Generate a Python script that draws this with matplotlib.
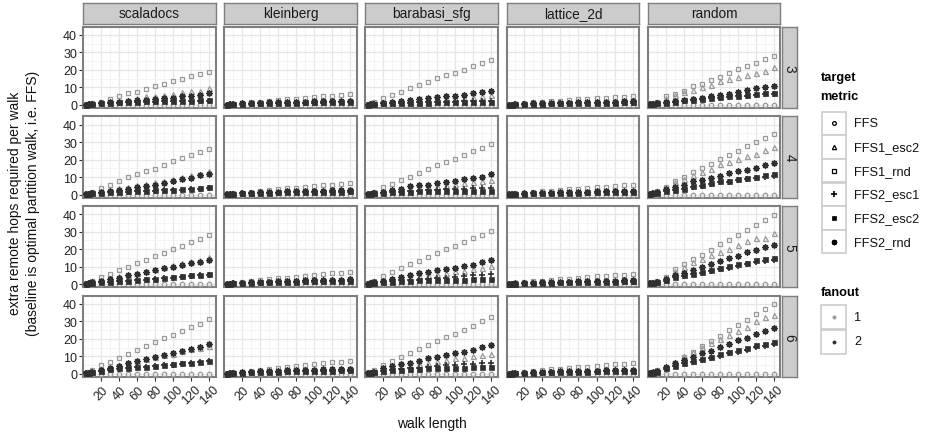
import matplotlib
matplotlib.use('Agg')
import matplotlib.pyplot as plt
from matplotlib.patches import Rectangle
from matplotlib.ticker import FixedLocator

plt.rcParams['font.family'] = ['Liberation Sans', 'DejaVu Sans']

# ---------------- data ----------------
walk_length = [3, 6, 10, 20, 30, 40, 50, 60, 70, 80, 90, 100, 110, 120, 130, 140]
graphs = ['scaladocs', 'kleinberg', 'barabasi_sfg', 'lattice_2d', 'random']
row_labels = ['3', '4', '5', '6']
metrics = ['FFS', 'FFS1_esc2', 'FFS1_rnd', 'FFS2_esc1', 'FFS2_esc2', 'FFS2_rnd']
fanout_labels = ['1', '2']
x_ticks = [20, 40, 60, 80, 100, 120, 140]
y_ticks = [0, 10, 20, 30, 40]

FFS_baseline = [0, 0, 0, 0, 0, 0, 0, 0, 0, 0, 0, 0, 0, 0, 0, 0]

scaladocs_FFS1_rnd = [
    [0.3, 0.6, 1.0, 1.8, 3.4, 4.8, 6.5, 7.6, 9.1, 10.5, 11.8, 13.6, 14.8, 16.3, 17.5, 19.0],
    [0.4, 0.8, 1.5, 4.0, 5.7, 7.5, 9.8, 11.5, 13.2, 14.8, 17.0, 19.0, 20.9, 22.8, 24.3, 26.2],
    [0.4, 0.9, 1.8, 3.9, 5.8, 7.9, 10.1, 12.4, 13.9, 16.3, 18.0, 20.0, 21.9, 24.2, 25.7, 28.0],
    [0.5, 1.0, 2.0, 5.0, 6.9, 9.2, 11.6, 13.8, 15.7, 18.1, 20.4, 22.2, 24.7, 26.9, 28.8, 31.4]]
scaladocs_FFS1_esc2 = [
    [0.2, 0.4, 0.7, 1.2, 1.8, 2.4, 3.0, 3.8, 4.8, 5.3, 5.7, 6.3, 7.2, 8.0, 8.2, 9.5],
    [0.3, 0.6, 1.0, 2.0, 2.8, 3.6, 4.5, 5.5, 6.2, 7.2, 8.0, 8.8, 10.0, 11.0, 11.8, 13.4],
    [0.3, 0.7, 1.2, 2.2, 3.2, 4.4, 5.5, 6.6, 7.6, 8.7, 9.8, 10.8, 11.9, 13.0, 14.0, 15.4],
    [0.3, 0.7, 1.2, 2.4, 3.6, 4.8, 6.2, 7.2, 8.3, 9.5, 10.6, 11.6, 13.0, 14.0, 15.0, 16.2]]
scaladocs_FFS2_rnd = [
    [0.2, 0.4, 0.7, 1.0, 1.4, 1.8, 2.1, 2.5, 3.0, 3.4, 3.8, 4.2, 5.0, 5.3, 5.5, 6.7],
    [0.3, 0.5, 0.9, 1.6, 2.2, 2.7, 3.3, 4.2, 5.0, 5.6, 6.5, 7.7, 9.0, 9.4, 10.9, 11.9],
    [0.3, 0.6, 1.0, 1.9, 2.8, 3.8, 5.1, 6.0, 6.9, 7.9, 9.2, 9.8, 11.1, 12.0, 12.9, 14.1],
    [0.3, 0.7, 1.1, 2.2, 3.6, 4.7, 6.2, 7.3, 8.4, 9.7, 10.8, 11.8, 13.3, 14.2, 15.3, 16.8]]
scaladocs_FFS2_esc2 = [
    [0.2, 0.4, 0.6, 1.0, 1.2, 1.4, 1.6, 1.8, 2.0, 2.1, 2.2, 2.3, 2.4, 2.4, 2.5, 2.5],
    [0.2, 0.4, 0.7, 1.1, 1.4, 1.6, 1.9, 2.1, 2.3, 2.5, 2.7, 2.7, 2.9, 3.3, 3.6, 4.2],
    [0.3, 0.5, 0.8, 1.2, 1.5, 1.8, 2.1, 2.3, 2.8, 3.2, 3.6, 3.9, 4.5, 5.1, 5.4, 5.6],
    [0.3, 0.6, 0.9, 1.8, 2.5, 3.2, 3.5, 4.1, 4.1, 4.5, 5.0, 5.4, 6.0, 6.4, 6.9, 7.5]]
scaladocs_FFS2_esc1 = [
    [0.2, 0.4, 0.6, 0.9, 1.1, 1.3, 1.5, 1.6, 1.8, 1.9, 2.0, 2.1, 2.2, 2.2, 2.3, 2.4],
    [0.2, 0.4, 0.6, 1.0, 1.3, 1.5, 1.7, 1.9, 2.1, 2.3, 2.5, 2.6, 2.8, 3.0, 3.3, 3.8],
    [0.3, 0.5, 0.8, 1.2, 1.5, 1.8, 2.0, 2.3, 2.6, 3.0, 3.4, 3.7, 4.2, 4.7, 5.0, 5.4],
    [0.3, 0.6, 0.9, 1.7, 2.4, 3.0, 3.4, 3.9, 4.0, 4.4, 4.8, 5.2, 5.8, 6.2, 6.6, 7.2]]

kleinberg_FFS1_rnd = [
    [0.2, 0.4, 0.6, 1.0, 1.5, 1.9, 2.4, 2.9, 3.3, 3.6, 4.0, 4.4, 5.0, 5.3, 5.6, 6.3],
    [0.2, 0.4, 0.7, 1.1, 1.6, 2.1, 2.6, 3.1, 3.5, 4.0, 4.4, 4.9, 5.3, 5.7, 6.1, 6.7],
    [0.2, 0.5, 0.7, 1.2, 1.8, 2.3, 2.8, 3.3, 3.8, 4.3, 4.8, 5.3, 5.7, 6.2, 6.6, 7.1],
    [0.3, 0.5, 0.8, 1.3, 1.9, 2.4, 3.0, 3.5, 4.1, 4.6, 5.1, 5.6, 6.1, 6.6, 7.0, 7.5]]
kleinberg_FFS1_esc2 = [
    [0.2, 0.3, 0.5, 0.8, 1.0, 1.2, 1.4, 1.6, 1.7, 1.9, 2.0, 2.1, 2.2, 2.3, 2.4, 2.5],
    [0.2, 0.3, 0.5, 0.8, 1.1, 1.3, 1.5, 1.7, 1.9, 2.0, 2.2, 2.3, 2.4, 2.5, 2.6, 2.7],
    [0.2, 0.3, 0.5, 0.9, 1.2, 1.4, 1.6, 1.8, 2.0, 2.2, 2.3, 2.5, 2.6, 2.7, 2.8, 2.9],
    [0.2, 0.4, 0.6, 0.9, 1.2, 1.5, 1.7, 1.9, 2.1, 2.3, 2.5, 2.6, 2.8, 2.9, 3.0, 3.1]]
kleinberg_FFS2_rnd = [
    [0.2, 0.3, 0.5, 0.8, 1.0, 1.2, 1.4, 1.5, 1.7, 1.8, 1.9, 2.0, 2.1, 2.2, 2.3, 2.4],
    [0.2, 0.3, 0.5, 0.8, 1.0, 1.2, 1.4, 1.6, 1.8, 1.9, 2.0, 2.2, 2.3, 2.4, 2.5, 2.6],
    [0.2, 0.3, 0.5, 0.8, 1.1, 1.3, 1.5, 1.7, 1.9, 2.0, 2.2, 2.3, 2.4, 2.5, 2.6, 2.8],
    [0.2, 0.4, 0.6, 0.9, 1.1, 1.4, 1.6, 1.8, 2.0, 2.1, 2.3, 2.4, 2.6, 2.7, 2.8, 3.0]]
kleinberg_FFS2_esc2 = [
    [0.2, 0.3, 0.4, 0.6, 0.8, 0.9, 1.0, 1.1, 1.2, 1.3, 1.4, 1.4, 1.5, 1.6, 1.6, 1.7],
    [0.2, 0.3, 0.4, 0.7, 0.8, 1.0, 1.1, 1.2, 1.3, 1.4, 1.5, 1.5, 1.6, 1.7, 1.7, 1.8],
    [0.2, 0.3, 0.5, 0.7, 0.9, 1.0, 1.1, 1.3, 1.4, 1.5, 1.6, 1.6, 1.7, 1.8, 1.9, 1.9],
    [0.2, 0.3, 0.5, 0.7, 0.9, 1.1, 1.2, 1.3, 1.5, 1.6, 1.7, 1.8, 1.9, 1.9, 2.0, 2.1]]
kleinberg_FFS2_esc1 = [
    [0.2, 0.3, 0.4, 0.5, 0.7, 0.8, 0.9, 1.0, 1.1, 1.2, 1.2, 1.3, 1.3, 1.4, 1.4, 1.5],
    [0.2, 0.3, 0.4, 0.6, 0.7, 0.9, 1.0, 1.1, 1.2, 1.2, 1.3, 1.4, 1.4, 1.5, 1.6, 1.6],
    [0.2, 0.3, 0.4, 0.6, 0.8, 0.9, 1.0, 1.1, 1.2, 1.3, 1.4, 1.5, 1.5, 1.6, 1.7, 1.7],
    [0.2, 0.3, 0.4, 0.6, 0.8, 1.0, 1.1, 1.2, 1.3, 1.4, 1.5, 1.6, 1.7, 1.7, 1.8, 1.9]]

barabasi_sfg_FFS1_rnd = [
    [0.4, 0.8, 1.5, 4.0, 5.9, 7.6, 9.5, 11.4, 13.1, 15.2, 16.8, 18.5, 20.2, 22.1, 23.8, 25.7],
    [0.4, 0.9, 1.6, 4.2, 6.1, 8.4, 10.3, 12.3, 14.6, 16.7, 18.6, 20.5, 22.8, 24.7, 26.8, 28.7],
    [0.5, 1.0, 1.8, 4.7, 7.0, 9.2, 11.3, 13.4, 15.5, 17.9, 20.0, 22.1, 24.3, 26.2, 28.3, 30.2],
    [0.5, 1.1, 2.0, 5.1, 7.5, 9.8, 11.7, 14.2, 16.4, 18.7, 20.9, 23.0, 25.3, 27.4, 30.0, 32.5]]
barabasi_sfg_FFS1_esc2 = [
    [0.2, 0.3, 0.5, 0.8, 1.2, 1.6, 2.1, 2.5, 2.9, 3.2, 3.5, 3.8, 4.1, 4.6, 5.1, 5.5],
    [0.2, 0.4, 0.6, 1.2, 1.8, 2.4, 3.0, 3.6, 4.1, 4.7, 5.3, 5.9, 6.5, 7.2, 8.0, 8.4],
    [0.3, 0.5, 0.8, 1.5, 2.3, 3.0, 3.7, 4.4, 5.1, 5.8, 6.6, 7.4, 7.7, 8.5, 9.2, 10.2],
    [0.3, 0.6, 0.9, 1.8, 2.7, 3.6, 4.5, 5.4, 6.3, 7.2, 8.0, 8.9, 9.2, 10.4, 10.8, 11.3]]
barabasi_sfg_FFS2_rnd = [
    [0.2, 0.4, 0.6, 1.0, 1.5, 2.1, 2.9, 3.4, 4.0, 4.4, 4.8, 5.3, 5.7, 6.5, 7.2, 7.8],
    [0.2, 0.5, 0.8, 1.7, 2.7, 3.3, 4.6, 5.2, 5.7, 6.5, 7.1, 7.7, 8.6, 9.6, 10.3, 11.5],
    [0.3, 0.6, 1.0, 1.9, 3.2, 4.0, 5.1, 6.2, 7.2, 8.1, 8.9, 9.4, 10.2, 11.1, 12.6, 13.6],
    [0.3, 0.7, 1.2, 3.2, 4.5, 5.8, 6.4, 7.5, 8.9, 9.8, 10.8, 11.7, 12.3, 13.6, 15.1, 16.4]]
barabasi_sfg_FFS2_esc2 = [
    [0.2, 0.3, 0.5, 0.8, 1.0, 1.1, 1.2, 1.3, 1.3, 1.4, 1.4, 1.4, 1.5, 1.5, 1.5, 1.5],
    [0.2, 0.4, 0.6, 1.0, 1.3, 1.5, 1.7, 1.8, 1.9, 2.0, 2.0, 2.1, 2.1, 2.2, 2.2, 2.2],
    [0.2, 0.4, 0.6, 1.1, 1.5, 1.8, 2.0, 2.2, 2.3, 2.4, 2.5, 2.5, 2.6, 2.7, 2.7, 2.8],
    [0.3, 0.5, 0.8, 1.4, 2.0, 2.4, 2.7, 2.9, 3.1, 3.3, 3.4, 3.5, 3.6, 3.7, 3.7, 3.8]]
barabasi_sfg_FFS2_esc1 = [
    [0.2, 0.3, 0.5, 0.8, 1.0, 1.2, 1.3, 1.5, 1.6, 1.7, 1.8, 1.9, 2.0, 2.1, 2.2, 2.3],
    [0.2, 0.4, 0.6, 1.0, 1.4, 1.7, 2.0, 2.3, 2.5, 2.7, 2.9, 3.1, 3.3, 3.5, 3.6, 3.8],
    [0.3, 0.5, 0.8, 1.4, 2.0, 2.4, 2.3, 2.6, 3.2, 3.6, 3.8, 4.2, 4.7, 5.1, 5.3, 5.8],
    [0.3, 0.6, 0.9, 1.6, 2.2, 2.8, 3.2, 3.6, 4.0, 4.4, 4.8, 5.1, 5.4, 5.7, 6.0, 6.4]]

lattice_2d_FFS1_rnd = [
    [0.2, 0.4, 0.6, 1.0, 1.4, 1.7, 2.1, 2.4, 2.8, 3.1, 3.4, 3.8, 4.1, 4.4, 4.7, 5.0],
    [0.2, 0.4, 0.6, 1.1, 1.5, 1.9, 2.3, 2.7, 3.0, 3.4, 3.8, 4.1, 4.5, 4.9, 5.2, 5.5],
    [0.2, 0.4, 0.7, 1.1, 1.6, 2.0, 2.4, 2.8, 3.2, 3.6, 4.0, 4.4, 4.8, 5.1, 5.5, 5.8],
    [0.2, 0.4, 0.7, 1.2, 1.6, 2.1, 2.5, 2.9, 3.4, 3.8, 4.2, 4.6, 5.0, 5.4, 5.7, 6.1]]
lattice_2d_FFS1_esc2 = [
    [0.1, 0.2, 0.4, 0.6, 0.8, 1.0, 1.1, 1.3, 1.4, 1.5, 1.6, 1.7, 1.8, 1.9, 2.0, 2.1],
    [0.1, 0.2, 0.4, 0.6, 0.8, 1.0, 1.2, 1.3, 1.5, 1.6, 1.7, 1.8, 1.9, 2.0, 2.1, 2.2],
    [0.2, 0.3, 0.4, 0.7, 0.9, 1.1, 1.2, 1.4, 1.5, 1.7, 1.8, 1.9, 2.0, 2.1, 2.2, 2.3],
    [0.2, 0.3, 0.4, 0.7, 0.9, 1.1, 1.3, 1.4, 1.6, 1.7, 1.9, 2.0, 2.1, 2.2, 2.3, 2.4]]
lattice_2d_FFS2_rnd = [
    [0.1, 0.2, 0.4, 0.6, 0.8, 0.9, 1.1, 1.2, 1.3, 1.5, 1.6, 1.7, 1.8, 1.9, 2.0, 2.1],
    [0.1, 0.2, 0.4, 0.6, 0.8, 1.0, 1.1, 1.3, 1.4, 1.5, 1.7, 1.8, 1.9, 2.0, 2.1, 2.2],
    [0.2, 0.3, 0.4, 0.7, 0.9, 1.0, 1.2, 1.3, 1.5, 1.6, 1.7, 1.9, 2.0, 2.1, 2.2, 2.3],
    [0.2, 0.3, 0.4, 0.7, 0.9, 1.1, 1.2, 1.4, 1.5, 1.7, 1.8, 1.9, 2.1, 2.2, 2.3, 2.4]]
lattice_2d_FFS2_esc2 = [
    [0.1, 0.2, 0.3, 0.5, 0.6, 0.7, 0.8, 0.9, 1.0, 1.1, 1.1, 1.2, 1.3, 1.3, 1.4, 1.4],
    [0.1, 0.2, 0.3, 0.5, 0.6, 0.8, 0.9, 1.0, 1.0, 1.1, 1.2, 1.3, 1.3, 1.4, 1.5, 1.5],
    [0.1, 0.2, 0.3, 0.5, 0.7, 0.8, 0.9, 1.0, 1.1, 1.2, 1.3, 1.4, 1.4, 1.5, 1.6, 1.6],
    [0.1, 0.2, 0.3, 0.5, 0.7, 0.8, 0.9, 1.0, 1.1, 1.2, 1.3, 1.4, 1.5, 1.6, 1.6, 1.7]]
lattice_2d_FFS2_esc1 = [
    [0.1, 0.2, 0.3, 0.4, 0.5, 0.6, 0.7, 0.8, 0.9, 0.9, 1.0, 1.1, 1.1, 1.2, 1.2, 1.3],
    [0.1, 0.2, 0.3, 0.4, 0.6, 0.7, 0.8, 0.9, 0.9, 1.0, 1.1, 1.1, 1.2, 1.3, 1.3, 1.4],
    [0.1, 0.2, 0.3, 0.5, 0.6, 0.7, 0.8, 0.9, 1.0, 1.1, 1.1, 1.2, 1.3, 1.4, 1.4, 1.5],
    [0.1, 0.2, 0.3, 0.5, 0.6, 0.7, 0.8, 0.9, 1.0, 1.1, 1.2, 1.3, 1.4, 1.4, 1.5, 1.6]]

random_FFS1_rnd = [
    [0.4, 0.9, 1.8, 4.8, 6.3, 8.2, 10.5, 12.0, 14.3, 16.2, 18.3, 20.4, 22.1, 23.8, 26.1, 27.8],
    [0.5, 1.0, 2.0, 4.2, 8.0, 10.0, 12.8, 15.3, 17.6, 20.5, 22.4, 24.9, 27.8, 29.9, 32.4, 34.9],
    [0.5, 1.0, 2.0, 4.2, 8.5, 11.5, 14.2, 16.8, 19.6, 22.8, 25.5, 28.1, 30.9, 34.0, 36.6, 39.4],
    [0.5, 1.0, 2.0, 3.2, 6.0, 9.8, 12.6, 15.7, 18.7, 21.9, 24.9, 27.9, 30.8, 34.0, 37.2, 40.2]]
random_FFS1_esc2 = [
    [0.3, 0.7, 1.4, 4.0, 5.5, 7.2, 8.7, 10.0, 11.2, 13.5, 14.7, 15.8, 17.3, 18.5, 19.6, 21.5],
    [0.4, 0.8, 1.6, 4.0, 7.0, 9.0, 11.0, 12.8, 14.4, 17.6, 18.6, 20.5, 21.8, 23.4, 25.7, 27.2],
    [0.4, 0.8, 1.6, 4.0, 7.5, 10.0, 12.6, 14.5, 16.8, 18.3, 20.2, 22.6, 24.7, 26.2, 26.6, 29.0],
    [0.4, 0.8, 1.6, 4.0, 7.0, 10.0, 12.6, 15.5, 17.4, 19.8, 22.1, 24.5, 26.8, 30.0, 32.5, 33.8]]
random_FFS2_rnd = [
    [0.3, 0.6, 1.0, 1.5, 2.1, 2.9, 3.4, 4.0, 5.0, 5.7, 6.3, 7.2, 8.4, 9.5, 10.1, 11.0],
    [0.4, 0.7, 1.2, 2.9, 4.2, 5.7, 7.5, 8.4, 9.6, 10.5, 12.5, 13.2, 14.2, 15.3, 16.7, 18.0],
    [0.4, 0.8, 1.3, 3.2, 5.1, 6.6, 8.3, 9.8, 11.7, 13.2, 15.1, 16.4, 18.3, 19.8, 21.1, 22.6],
    [0.4, 0.8, 1.4, 4.2, 6.0, 7.9, 9.8, 11.7, 13.2, 15.1, 17.0, 19.2, 20.6, 23.0, 24.3, 26.2]]
random_FFS2_esc2 = [
    [0.3, 0.5, 0.9, 1.3, 1.9, 2.5, 2.9, 3.4, 4.0, 4.4, 4.8, 5.3, 5.7, 6.1, 6.7, 6.9],
    [0.3, 0.6, 1.0, 1.9, 2.7, 3.3, 4.6, 5.2, 6.5, 7.7, 8.0, 8.8, 9.6, 10.3, 10.9, 11.5],
    [0.4, 0.7, 1.1, 2.3, 4.2, 5.1, 6.0, 7.0, 8.3, 9.4, 10.2, 11.3, 12.3, 13.6, 14.2, 15.1],
    [0.4, 0.7, 1.2, 3.2, 4.7, 6.4, 7.4, 8.5, 9.8, 11.1, 12.6, 13.6, 14.9, 16.4, 17.0, 18.3]]
random_FFS2_esc1 = [
    [0.3, 0.5, 0.8, 1.2, 1.8, 2.3, 2.7, 3.2, 3.7, 4.1, 4.5, 4.9, 5.3, 5.7, 6.2, 6.4],
    [0.3, 0.6, 0.9, 1.8, 2.5, 3.1, 4.3, 4.8, 6.0, 7.1, 7.4, 8.2, 8.9, 9.6, 10.1, 10.7],
    [0.4, 0.7, 1.0, 2.1, 3.9, 4.7, 5.6, 6.5, 7.7, 8.7, 9.5, 10.5, 11.4, 12.6, 13.2, 14.0],
    [0.4, 0.7, 1.1, 3.0, 4.4, 6.0, 6.9, 7.9, 9.1, 10.3, 11.7, 12.6, 13.9, 15.3, 15.8, 17.0]]

series = {
    'scaladocs': {'FFS1_esc2': scaladocs_FFS1_esc2, 'FFS1_rnd': scaladocs_FFS1_rnd,
                  'FFS2_esc1': scaladocs_FFS2_esc1, 'FFS2_esc2': scaladocs_FFS2_esc2,
                  'FFS2_rnd': scaladocs_FFS2_rnd},
    'kleinberg': {'FFS1_esc2': kleinberg_FFS1_esc2, 'FFS1_rnd': kleinberg_FFS1_rnd,
                  'FFS2_esc1': kleinberg_FFS2_esc1, 'FFS2_esc2': kleinberg_FFS2_esc2,
                  'FFS2_rnd': kleinberg_FFS2_rnd},
    'barabasi_sfg': {'FFS1_esc2': barabasi_sfg_FFS1_esc2, 'FFS1_rnd': barabasi_sfg_FFS1_rnd,
                     'FFS2_esc1': barabasi_sfg_FFS2_esc1, 'FFS2_esc2': barabasi_sfg_FFS2_esc2,
                     'FFS2_rnd': barabasi_sfg_FFS2_rnd},
    'lattice_2d': {'FFS1_esc2': lattice_2d_FFS1_esc2, 'FFS1_rnd': lattice_2d_FFS1_rnd,
                   'FFS2_esc1': lattice_2d_FFS2_esc1, 'FFS2_esc2': lattice_2d_FFS2_esc2,
                   'FFS2_rnd': lattice_2d_FFS2_rnd},
    'random': {'FFS1_esc2': random_FFS1_esc2, 'FFS1_rnd': random_FFS1_rnd,
               'FFS2_esc1': random_FFS2_esc1, 'FFS2_esc2': random_FFS2_esc2,
               'FFS2_rnd': random_FFS2_rnd},
}

# ---------------- style ----------------
GREY = '#9a9a9a'
DARK = '#303030'
BORDER = '#7f7f7f'
metric_style = {
    'FFS':       dict(marker='o', mfc='none', ms=3.2, mew=0.9, color=GREY),
    'FFS1_esc2': dict(marker='^', mfc='none', ms=3.6, mew=0.9, color=GREY),
    'FFS1_rnd':  dict(marker='s', mfc='none', ms=3.4, mew=0.9, color=GREY),
    'FFS2_esc1': dict(marker='+', ms=4.6, mew=1.2, color=DARK),
    'FFS2_esc2': dict(marker='s', ms=3.6, mew=0.5, color=DARK),
    'FFS2_rnd':  dict(marker=(8, 2, 0), ms=4.6, mew=1.0, color=DARK),
}

FS_TICK = 9
FS_STRIP = 9.8
FS_TITLE = 10
FS_LEG = 9.2

W, H = 928, 439
fig = plt.figure(figsize=(W / 100, H / 100), dpi=100)


def rect(x0, y0, w, h):
    return [x0 / W, 1 - (y0 + h) / H, w / W, h / H]


col_x = [83.3 + i * 141.1 for i in range(5)]
row_y = [27.7 + j * 89.67 for j in range(4)]
pw, ph = 132.6, 81.3

for j, rl in enumerate(row_labels):
    for i, g in enumerate(graphs):
        ax = fig.add_axes(rect(col_x[i], row_y[j], pw, ph))
        ax.set_facecolor('white')
        ax.set_xlim(0.2, 147.4)
        ax.set_ylim(-1.8, 44.7)
        ax.xaxis.set_major_locator(FixedLocator(x_ticks))
        ax.xaxis.set_minor_locator(FixedLocator([10, 30, 50, 70, 90, 110, 130]))
        ax.yaxis.set_major_locator(FixedLocator(y_ticks))
        ax.yaxis.set_minor_locator(FixedLocator([5, 15, 25, 35]))
        ax.grid(which='major', color='#e6e6e6', lw=0.9)
        ax.grid(which='minor', color='#f3f3f3', lw=0.6)
        ax.set_axisbelow(True)
        for s in ax.spines.values():
            s.set_color(BORDER)
            s.set_linewidth(1.5)
        ax.tick_params(which='minor', length=0)
        ax.tick_params(which='major', direction='out', length=3, width=0.8,
                       color='#333333', labelsize=FS_TICK, labelcolor='#222222', pad=1.5)
        if i != 0:
            ax.tick_params(axis='y', which='major', length=0, labelleft=False)
        if j != 3:
            ax.tick_params(axis='x', which='major', length=0, labelbottom=False)
        else:
            ax.set_xticklabels([str(t) for t in x_ticks], rotation=45, ha='center', va='top')
        # points
        ax.plot(walk_length, FFS_baseline, ls='none', **metric_style['FFS'], zorder=3)
        for m in metrics[1:]:
            ax.plot(walk_length, series[g][m][j], ls='none', **metric_style[m], zorder=3)

        # top strip
        if j == 0:
            sax = fig.add_axes(rect(col_x[i], 3.6, pw, 21.6))
            sax.set_facecolor('#cccccc')
            sax.set_xticks([]); sax.set_yticks([])
            for s in sax.spines.values():
                s.set_color(BORDER); s.set_linewidth(1.0)
            sax.text(0.5, 0.5, g, ha='center', va='center', fontsize=FS_STRIP,
                     color='#1a1a1a', transform=sax.transAxes)
        # right strip
        if i == 4:
            rax = fig.add_axes(rect(782.2, row_y[j], 15, ph))
            rax.set_facecolor('#cccccc')
            rax.set_xticks([]); rax.set_yticks([])
            for s in rax.spines.values():
                s.set_color(BORDER); s.set_linewidth(1.0)
            rax.text(0.5, 0.5, rl, ha='center', va='center', fontsize=FS_STRIP,
                     rotation=-90, color='#1a1a1a', transform=rax.transAxes)

# axis titles
fig.text(15 / W, 1 - 203 / H, 'extra remote hops required per walk', rotation=90,
         ha='center', va='center', fontsize=FS_TITLE, color='#111111')
fig.text(33 / W, 1 - 203 / H, '(baseline is optimal partition walk, i.e. FFS)', rotation=90,
         ha='center', va='center', fontsize=FS_TITLE, color='#111111')
fig.text(431.5 / W, 1 - 424 / H, 'walk length', ha='center', va='center',
         fontsize=FS_TITLE, color='#111111')

# legends drawn in pixel space
lax = fig.add_axes([0, 0, 1, 1])
lax.set_xlim(0, W)
lax.set_ylim(H, 0)
lax.axis('off')

lax.text(820.5, 78, 'target', fontsize=FS_LEG, fontweight='bold', va='center', ha='left')
lax.text(820.5, 97.5, 'metric', fontsize=FS_LEG, fontweight='bold', va='center', ha='left')
key_x0, key_w = 822.5, 23.2
for k, m in enumerate(metrics):
    cy = 124.2 + k * 23.7
    lax.add_patch(Rectangle((key_x0, cy - 11.6), key_w, 23.2, fc='white', ec='#cccccc', lw=1.2))
    st = dict(metric_style[m])
    st['color'] = 'black'
    st['ms'] = st['ms'] * 0.85
    lax.plot([key_x0 + key_w / 2], [cy], ls='none', **st)
    lax.text(854, cy, m, fontsize=FS_LEG, va='center', ha='left', color='#111111')

lax.text(820.5, 292.7, 'fanout', fontsize=FS_LEG, fontweight='bold', va='center', ha='left')
for k, (fl, c) in enumerate(zip(fanout_labels, [GREY, DARK])):
    cy = 318.3 + k * 24.2
    lax.add_patch(Rectangle((key_x0 - 1, cy - 12), key_w + 1, 24, fc='white', ec='#cccccc', lw=1.2))
    lax.plot([key_x0 + key_w / 2 - 0.5], [cy], ls='none', marker='o', ms=1.8, color=c)
    lax.text(854, cy, fl, fontsize=FS_LEG, va='center', ha='left', color='#111111')

fig.savefig('out.png', dpi=100)
